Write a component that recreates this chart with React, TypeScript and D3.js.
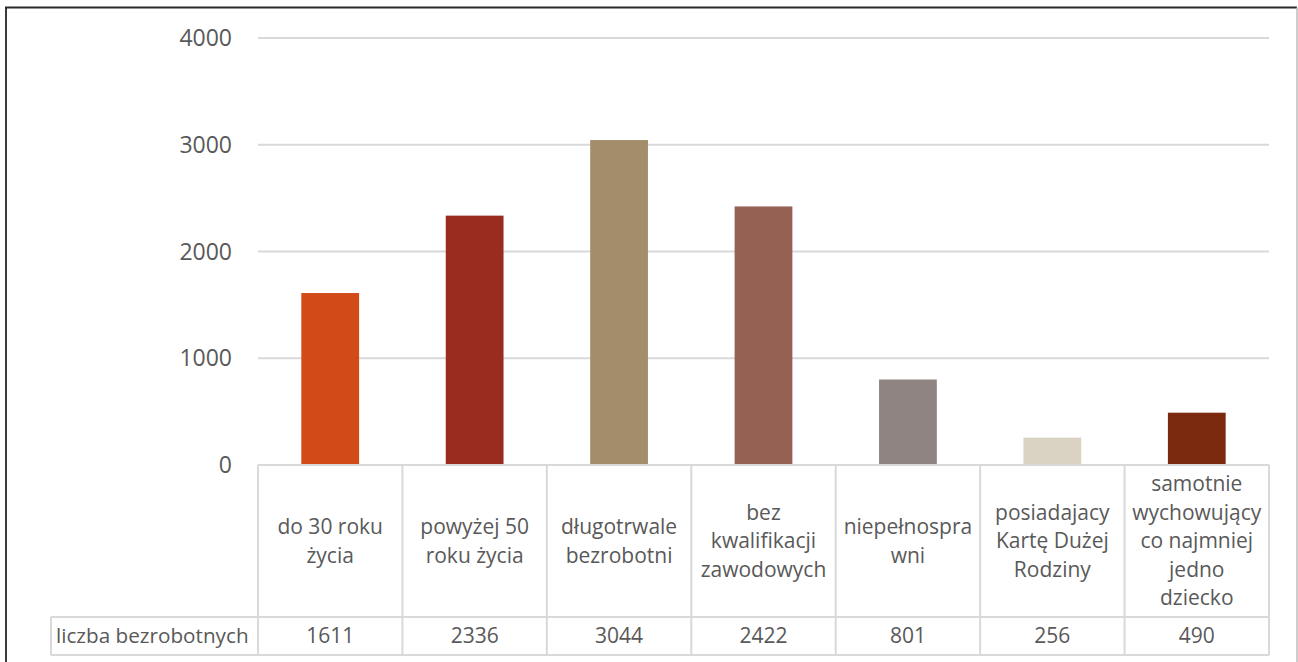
import React from "react";
import * as d3 from "d3";

const categories = [
  "do 30 roku życia",
  "powyżej 50 roku życia",
  "długotrwale bezrobotni",
  "bez kwalifikacji zawodowych",
  "niepełnosprawni",
  "posiadajacy Kartę Dużej Rodziny",
  "samotnie wychowujący co najmniej jedno dziecko",
];
const categoryLines = [
  ["do 30 roku", "życia"],
  ["powyżej 50", "roku życia"],
  ["długotrwale", "bezrobotni"],
  ["bez", "kwalifikacji", "zawodowych"],
  ["niepełnospra", "wni"],
  ["posiadajacy", "Kartę Dużej", "Rodziny"],
  ["samotnie", "wychowujący", "co najmniej", "jedno", "dziecko"],
];
const seriesName = "liczba bezrobotnych";
const values = [1611, 2336, 3044, 2422, 801, 256, 490];
const colors = ["#D24A17", "#9A2B1F", "#A38D6B", "#946152", "#8F8482", "#DAD2C3", "#7B2A10"];
const yTicks = [0, 1000, 2000, 3000, 4000];

const W = 1298;
const H = 662;
const plotL = 258;
const plotR = 1269;
const plotT = 38;
const plotB = 465;
const valueRowTop = 617;
const tableBottom = 655;
const headerLeft = 51;
const FONT = "'Open Sans', 'Liberation Sans', sans-serif";
const TEXT = "#595959";
const GRID = "#D9D9D9";

export default function App() {
  const x = d3.scaleBand<string>().domain(categories).range([plotL, plotR]).paddingInner(0).paddingOuter(0);
  const y = d3.scaleLinear().domain([0, 4000]).range([plotB, plotT]);
  const bw = x.bandwidth() * 0.4;
  const labelMid = (plotB + valueRowTop) / 2;
  const lineH = 28.5;

  return (
    <svg width={W} height={H} style={{ position: "absolute", left: 0, top: 0 }} fontFamily={FONT}>
      <rect x={0} y={0} width={W} height={H} fill="#fff" />
      {/* frame */}
      <line x1={6} x2={6} y1={7.5} y2={H} stroke="#3a3a3a" strokeWidth={2} />
      <line x1={5} x2={1297} y1={7.5} y2={7.5} stroke="#2a2a2a" strokeWidth={2} />
      <line x1={1297} x2={1297} y1={7.5} y2={H} stroke="#BDBDBD" strokeWidth={1.5} />

      {/* gridlines */}
      {yTicks.filter((t) => t > 0).map((t) => (
        <line key={t} x1={plotL} x2={plotR} y1={y(t)} y2={y(t)} stroke={GRID} strokeWidth={2} />
      ))}
      {/* y labels */}
      {yTicks.map((t) => (
        <text key={t} x={232} y={y(t)} dy="0.35em" textAnchor="end" fontSize={23} fill={TEXT}>
          {t}
        </text>
      ))}

      {/* bars */}
      {categories.map((c, i) => (
        <rect
          key={c}
          x={(x(c) as number) + (x.bandwidth() - bw) / 2}
          y={y(values[i])}
          width={bw}
          height={y(0) - y(values[i])}
          fill={colors[i]}
        />
      ))}

      {/* data table */}
      <g stroke={GRID} strokeWidth={2} fill="none">
        <line x1={plotL} x2={plotR} y1={plotB} y2={plotB} />
        <line x1={headerLeft} x2={plotR} y1={valueRowTop} y2={valueRowTop} />
        <line x1={headerLeft} x2={plotR} y1={tableBottom} y2={tableBottom} />
        <line x1={headerLeft} x2={headerLeft} y1={valueRowTop} y2={tableBottom} />
        {categories.map((c) => (
          <line key={c} x1={x(c) as number} x2={x(c) as number} y1={plotB} y2={tableBottom} />
        ))}
        <line x1={plotR} x2={plotR} y1={plotB} y2={tableBottom} />
      </g>

      {categories.map((c, i) => {
        const cx = (x(c) as number) + x.bandwidth() / 2;
        const lines = categoryLines[i];
        const start = labelMid - ((lines.length - 1) * lineH) / 2;
        return (
          <g key={c}>
            <text textAnchor="middle" fontSize={21} fill={TEXT}>
              {lines.map((l, j) => (
                <tspan key={j} x={cx} y={start + j * lineH} dy="0.35em">
                  {l}
                </tspan>
              ))}
            </text>
            <text x={cx} y={(valueRowTop + tableBottom) / 2} dy="0.35em" textAnchor="middle" fontSize={21} fill={TEXT}>
              {values[i]}
            </text>
          </g>
        );
      })}
      <text x={56} y={(valueRowTop + tableBottom) / 2} dy="0.35em" fontSize={20.7} fill={TEXT}>
        {seriesName}
      </text>
    </svg>
  );
}
